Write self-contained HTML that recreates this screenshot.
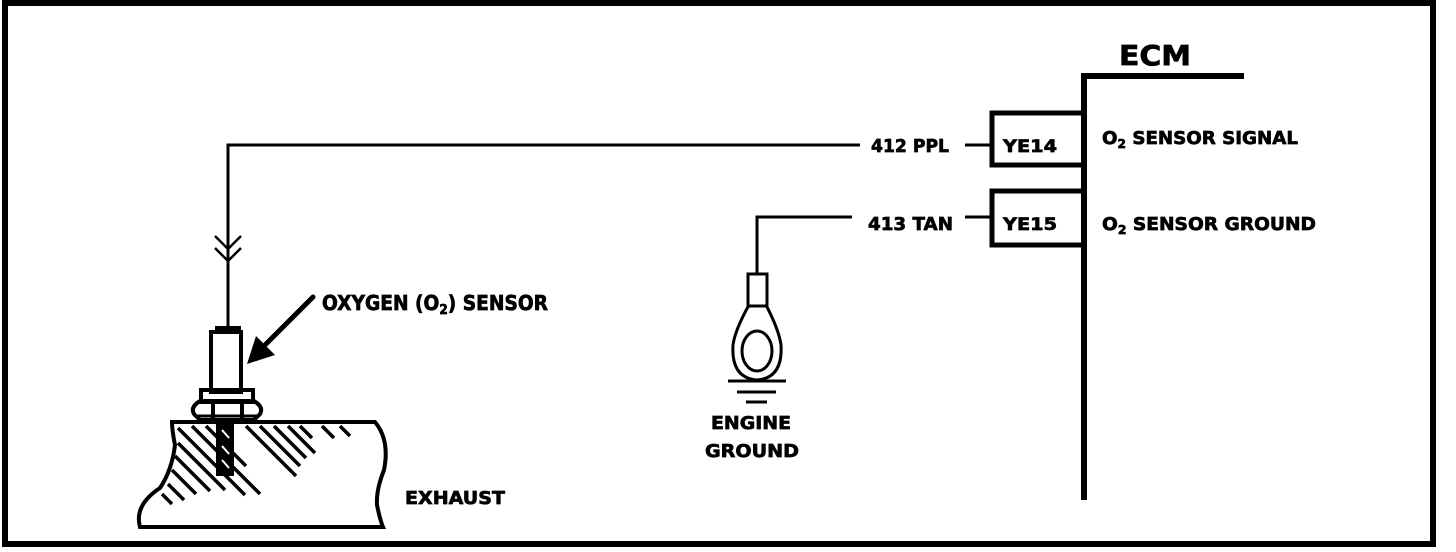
<!DOCTYPE html>
<html><head><style>
html,body{margin:0;padding:0;background:#fff;}
svg{display:block;}
text{font-family:"DejaVu Sans","Liberation Sans",sans-serif;font-weight:bold;fill:#000;stroke:#000;stroke-width:0.7;}
</style></head><body>
<svg width="1456" height="552" viewBox="0 0 1456 552" xmlns="http://www.w3.org/2000/svg">
<rect x="0" y="0" width="1456" height="552" fill="#fff"/>
<!-- frame -->
<rect x="5" y="3" width="1428" height="541" fill="none" stroke="#000" stroke-width="6"/>

<!-- ECM -->
<text x="1119" y="65" font-size="28" textLength="72" lengthAdjust="spacingAndGlyphs">ECM</text>
<path d="M1084 500 V76 H1244" fill="none" stroke="#000" stroke-width="6"/>
<rect x="992" y="113" width="92" height="52" fill="none" stroke="#000" stroke-width="5"/>
<rect x="992" y="191" width="92" height="54" fill="none" stroke="#000" stroke-width="5"/>
<text x="1003" y="152" font-size="17" textLength="54" lengthAdjust="spacingAndGlyphs">YE14</text>
<text x="1003" y="230" font-size="17" textLength="54" lengthAdjust="spacingAndGlyphs">YE15</text>
<text x="1102" y="144" font-size="18" textLength="196" lengthAdjust="spacingAndGlyphs">O<tspan font-size="12" dy="4">2</tspan><tspan dy="-4"> SENSOR SIGNAL</tspan></text>
<text x="1102" y="230" font-size="18" textLength="214" lengthAdjust="spacingAndGlyphs">O<tspan font-size="12" dy="4">2</tspan><tspan dy="-4"> SENSOR GROUND</tspan></text>

<!-- wires -->
<path d="M860 145 H228 V330" fill="none" stroke="#000" stroke-width="3"/>
<path d="M965 145 H992" stroke="#000" stroke-width="3"/>
<text x="871" y="152" font-size="18" textLength="78" lengthAdjust="spacingAndGlyphs">412 PPL</text>
<path d="M852 217 H757 V274" fill="none" stroke="#000" stroke-width="3"/>
<path d="M965 217 H992" stroke="#000" stroke-width="3"/>
<text x="868" y="230" font-size="18" textLength="85" lengthAdjust="spacingAndGlyphs">413 TAN</text>
<!-- connector chevrons -->
<path d="M215 236 L228 249 L241 236 M215 248 L228 261 L241 248" fill="none" stroke="#000" stroke-width="2.5"/>

<!-- sensor -->
<rect x="215" y="326" width="26" height="8" fill="#000"/>
<rect x="211" y="332" width="30" height="60" fill="none" stroke="#000" stroke-width="4"/>
<rect x="201" y="390" width="52" height="12" fill="none" stroke="#000" stroke-width="4"/>
<path d="M200 401 H254 Q264 407 260 414 L254 420 H200 L194 414 Q190 407 200 401 Z" fill="none" stroke="#000" stroke-width="4"/>
<path d="M213 402 V418 M242 402 V418" stroke="#000" stroke-width="4"/>
<rect x="199" y="416" width="56" height="6" fill="none" stroke="#000" stroke-width="3"/>
<!-- exhaust -->
<path d="M172 422 H375 Q390 440 384 470 Q376 490 377 505 Q380 520 383 527 H140 Q134 505 160 488 Q172 470 175 445 Q172 430 172 422 Z" fill="#fff" stroke="#000" stroke-width="4"/>
<g stroke="#000" stroke-width="3.5">
<path d="M178 428 L245 495 M178 443 L225 490 M175 456 L210 491 M172 470 L196 494 M168 484 L184 500 M162 494 L172 504"/>
<path d="M192 426 L260 494 M206 426 L246 466 M246 426 L296 476 M260 426 L300 466 M274 426 L306 458 M288 426 L315 453 M300 426 L312 438 M322 426 L334 438 M340 426 L350 436"/>
</g>
<rect x="216" y="422" width="18" height="54" fill="#000"/>
<path d="M222 430 L229 438 M222 446 L229 454 M222 460 L229 468" stroke="#fff" stroke-width="2"/>
<text x="405" y="504" font-size="18" textLength="100" lengthAdjust="spacingAndGlyphs">EXHAUST</text>

<!-- label and arrow -->
<text x="322" y="310" font-size="20" textLength="226" lengthAdjust="spacingAndGlyphs">OXYGEN (O<tspan font-size="13" dy="4">2</tspan><tspan dy="-4">) SENSOR</tspan></text>
<path d="M313 297 L262 348" stroke="#000" stroke-width="5" stroke-linecap="round"/>
<path d="M247 364 L256 336 L275 355 Z" fill="#000"/>

<!-- ground lug -->
<rect x="748" y="274" width="19" height="32" fill="none" stroke="#000" stroke-width="3"/>
<path d="M749 305 Q735 330 733 345 Q731 378 757 380 Q783 378 781 345 Q779 330 766 305" fill="none" stroke="#000" stroke-width="3"/>
<ellipse cx="757" cy="351" rx="15" ry="20" fill="none" stroke="#000" stroke-width="3"/>
<path d="M728 381 H786 M737 392 H776 M746 402 H767" stroke="#000" stroke-width="3"/>
<text x="711" y="429" font-size="18" textLength="80" lengthAdjust="spacingAndGlyphs">ENGINE</text>
<text x="705" y="457" font-size="18" textLength="94" lengthAdjust="spacingAndGlyphs">GROUND</text>
</svg>
</body></html>
